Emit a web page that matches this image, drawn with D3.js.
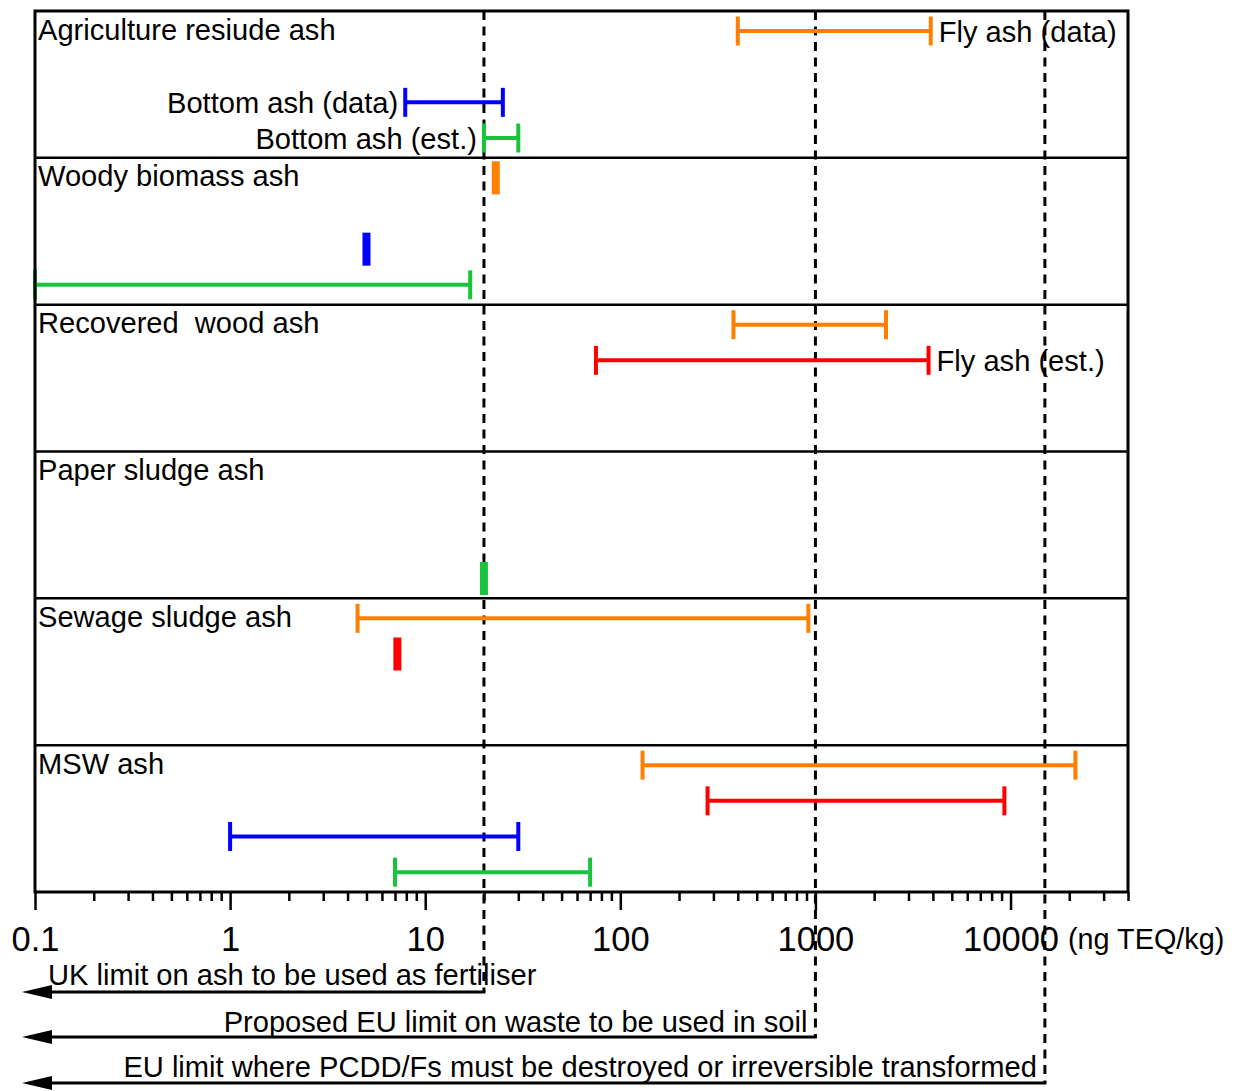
<!DOCTYPE html>
<html>
<head>
<meta charset="utf-8">
<script src="https://cdn.jsdelivr.net/npm/d3@7"></script>
<style>
  html, body { margin: 0; padding: 0; background: #fff; overflow: hidden; }
  svg { display: block; font-family: "Liberation Sans", Arial, Helvetica, sans-serif; }
  text { white-space: pre; }
</style>
</head>
<body>
<svg id="chart" width="1235" height="1091"></svg>
<script>
// ---------- data ----------
const categories = ["Agriculture resiude ash", "Woody biomass ash", "Recovered  wood ash",
                    "Paper sludge ash", "Sewage sludge ash", "MSW ash"];
const seriesNames = ["Fly ash (data)", "Fly ash (est.)", "Bottom ash (data)", "Bottom ash (est.)"];
// [low, high] in ng TEQ/kg per category (null = no data); low == high means a single value
const flyAshData    = [[400, 3900], [23, 23], [380, 2300], null, [4.5, 920], [130, 21500]];
const flyAshEst     = [null, null, [75, 3800], null, [7.2, 7.2], [280, 9300]];
const bottomAshData = [[7.9, 25], [5, 5], null, null, null, [1, 30]];
const bottomAshEst  = [[20, 30], [0.1, 17], null, [20, 20], null, [7, 70]];
const seriesValues  = [flyAshData, flyAshEst, bottomAshData, bottomAshEst];
// where each series is labelled (category index, side)
const seriesLabelCategory = [0, 2, 0, 0];
const seriesLabelSide = ["right", "right", "left", "left"];

const tickValues = [0.1, 1, 10, 100, 1000, 10000];
const tickLabels = ["0.1", "1", "10", "100", "1000", "10000"];
const unitLabel = "(ng TEQ/kg)";

const limitValues = [20, 1000, 15000];
const limitLabels = ["UK limit on ash to be used as fertiliser",
                     "Proposed EU limit on waste to be used in soil",
                     "EU limit where PCDD/Fs must be destroyed or irreversible transformed"];

// ---------- styles ----------
const seriesColors = ["#ff8000", "#ff0000", "#0000ff", "#19c43c"];
const fs = 29.1;

// ---------- layout ----------
const pL = 35, pR = 1128, pT = 11, pB = 892;
const svg = d3.select("#chart");

const x = d3.scaleLog().domain([0.1, 40000]).range([pL, pR]);
const band = d3.scaleBand().domain(categories).range([pT, pB]).paddingInner(0).paddingOuter(0);
const slot = d3.scalePoint().domain(seriesNames).range([20, 127]);

// panel dividers
svg.append("g").selectAll("line")
  .data(categories.slice(1))
  .join("line")
  .attr("x1", pL).attr("x2", pR)
  .attr("y1", d => band(d)).attr("y2", d => band(d))
  .attr("stroke", "#000").attr("stroke-width", 2.5);

// panel labels
svg.append("g").selectAll("text")
  .data(categories)
  .join("text")
  .attr("x", pL + 3)
  .attr("y", d => band(d) + 28.5)
  .attr("font-size", fs)
  .attr("fill", "#000")
  .text(d => d);

// limit lines (dashed) and arrows
const arrowY = [pB + 100, pB + 145, pB + 191];
const tipX = pL - 13;
const limG = svg.append("g");
limitValues.forEach((v, i) => {
  const lx = x(v);
  limG.append("line")
    .attr("x1", lx).attr("x2", lx)
    .attr("y1", pT).attr("y2", arrowY[i])
    .attr("stroke", "#000").attr("stroke-width", 3)
    .attr("stroke-dasharray", "9,6.5");
  limG.append("line")
    .attr("x1", lx + 1.5).attr("x2", tipX + 20)
    .attr("y1", arrowY[i]).attr("y2", arrowY[i])
    .attr("stroke", "#000").attr("stroke-width", 3);
  limG.append("path")
    .attr("d", `M${tipX},${arrowY[i]} L${tipX + 30},${arrowY[i] - 7} L${tipX + 30},${arrowY[i] + 7} Z`)
    .attr("fill", "#000");
});
// limit labels
limG.append("text").attr("x", 48).attr("y", arrowY[0] - 7)
  .attr("font-size", fs).text(limitLabels[0]);
limG.append("text").attr("x", x(limitValues[1]) - 8).attr("y", arrowY[1] - 5)
  .attr("text-anchor", "end").attr("font-size", fs).text(limitLabels[1]);
limG.append("text").attr("x", x(limitValues[2]) - 8).attr("y", arrowY[2] - 6)
  .attr("text-anchor", "end").attr("font-size", fs).text(limitLabels[2]);

// series ranges
const capH = 29, markH = 33, markW = 8;
seriesValues.forEach((vals, si) => {
  const g = svg.append("g").attr("stroke", seriesColors[si]).attr("fill", seriesColors[si]);
  vals.forEach((r, ci) => {
    if (!r) return;
    const y = band(categories[ci]) + slot(seriesNames[si]);
    const x0 = x(r[0]), x1 = x(r[1]);
    if (r[0] === r[1]) {
      g.append("rect")
        .attr("x", x0 - markW / 2).attr("y", y - markH / 2)
        .attr("width", markW).attr("height", markH)
        .attr("stroke", "none");
      return;
    }
    g.append("line").attr("x1", x0).attr("x2", x1).attr("y1", y).attr("y2", y)
      .attr("stroke-width", 4);
    [x0, x1].forEach(cx => {
      g.append("line").attr("x1", cx).attr("x2", cx)
        .attr("y1", y - capH / 2).attr("y2", y + capH / 2)
        .attr("stroke-width", 4);
    });
  });
});

// series labels
seriesNames.forEach((name, si) => {
  const ci = seriesLabelCategory[si];
  const r = seriesValues[si][ci];
  const y = band(categories[ci]) + slot(name) + 11;
  const isRight = seriesLabelSide[si] === "right";
  svg.append("text")
    .attr("x", isRight ? x(r[1]) + 8 : x(r[0]) - 7)
    .attr("y", y)
    .attr("text-anchor", isRight ? "start" : "end")
    .attr("font-size", fs)
    .attr("fill", "#000")
    .text(name);
});

// frame
svg.append("rect")
  .attr("x", pL).attr("y", pT)
  .attr("width", pR - pL).attr("height", pB - pT)
  .attr("fill", "none").attr("stroke", "#000").attr("stroke-width", 3);

// axis: minor ticks
const minorTicks = [];
for (let e = -1; e <= 4; e++) {
  for (let m = 2; m <= 9; m++) {
    const v = m * Math.pow(10, e);
    if (v <= 40000) minorTicks.push(v);
  }
}
const minorAxis = svg.append("g")
  .attr("transform", `translate(0,${pB})`)
  .call(d3.axisBottom(x).tickValues(minorTicks).tickSize(9).tickFormat(""));
minorAxis.select(".domain").remove();
minorAxis.selectAll(".tick line").attr("stroke-width", 2.5);

const majorAxis = svg.append("g")
  .attr("transform", `translate(0,${pB})`)
  .call(d3.axisBottom(x).tickValues(tickValues).tickSize(18)
        .tickFormat((d, i) => tickLabels[i]));
majorAxis.select(".domain").remove();
majorAxis.selectAll(".tick line").attr("stroke-width", 2.5);
majorAxis.selectAll(".tick text")
  .attr("y", 59).attr("dy", 0)
  .attr("font-size", 34.5)
  .attr("font-family", "Liberation Sans, Arial, sans-serif")
  .attr("fill", "#000");

svg.append("text")
  .attr("x", 1068).attr("y", pB + 57)
  .attr("font-size", 28.8)
  .text(unitLabel);
</script>
</body>
</html>
